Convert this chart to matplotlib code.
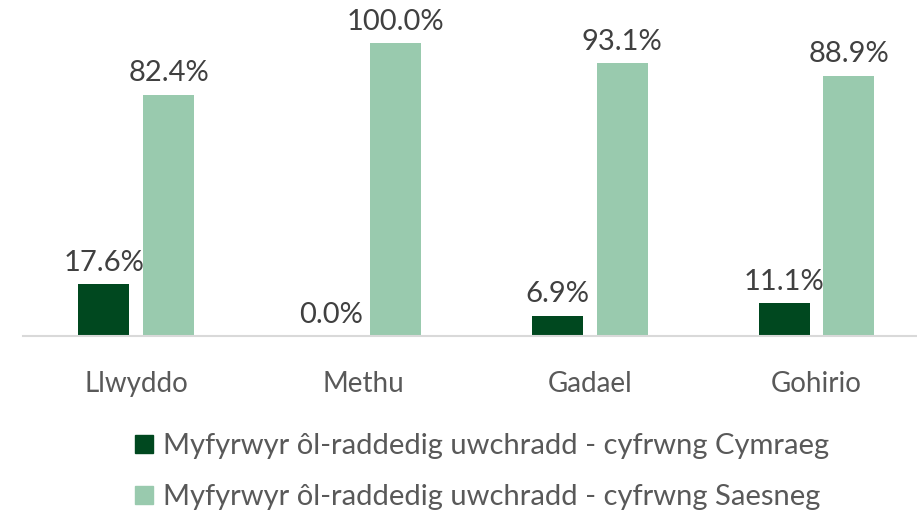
import matplotlib.pyplot as plt
import numpy as np
from matplotlib.patches import Patch

# data
categories = ['Llwyddo', 'Methu', 'Gadael', 'Gohirio']
welsh_medium = [17.6, 0.0, 6.9, 11.1]
english_medium = [82.4, 100.0, 93.1, 88.9]
series_names = ['Myfyrwyr ôl-raddedig uwchradd - cyfrwng Cymraeg',
                'Myfyrwyr ôl-raddedig uwchradd - cyfrwng Saesneg']

dark = '#00481F'
light = '#99CAAE'

plt.rcParams['font.family'] = ['Lato', 'DejaVu Sans']

W, H = 917, 511
fig = plt.figure(figsize=(W / 100, H / 100), dpi=100)

# axes placed in pixel terms
left, right, base, top = 23, 917, 336, 43
ax = fig.add_axes([left / W, 1 - base / H, (right - left) / W, (base - top) / H])

x = np.arange(len(categories))
w = 0.225
off = 0.143
b1 = ax.bar(x - off, welsh_medium, w, color=dark)
b2 = ax.bar(x + off, english_medium, w, color=light)

for bars, vals in ((b1, welsh_medium), (b2, english_medium)):
    for r, v in zip(bars, vals):
        ax.annotate(f'{v:.1f}%', (r.get_x() + r.get_width() / 2, v),
                    xytext=(0, 6), textcoords='offset points',
                    ha='center', va='bottom', fontsize=21, color='#404040',
                    annotation_clip=False)

ax.set_xlim(-0.5, -0.5 + (right - left) / 226.7)
ax.set_ylim(0, 100)
ax.set_yticks([])
ax.set_xticks(x)
ax.set_xticklabels(categories, fontsize=20, color='#595959')
ax.tick_params(axis='x', length=0, pad=25)
for s in ['top', 'right', 'left']:
    ax.spines[s].set_visible(False)
ax.spines['bottom'].set_color('#D9D9D9')
ax.spines['bottom'].set_linewidth(1.5)

handles = [Patch(color=dark), Patch(color=light)]
fig.legend(handles, series_names, loc='upper left',
           bbox_to_anchor=(112 / W, 1 - 410 / H), frameon=False,
           fontsize=21, labelcolor='#595959', handlelength=0.6,
           handleheight=0.6, handletextpad=0.35, labelspacing=0.85,
           borderpad=0.3)

fig.savefig('out.png', dpi=100)
